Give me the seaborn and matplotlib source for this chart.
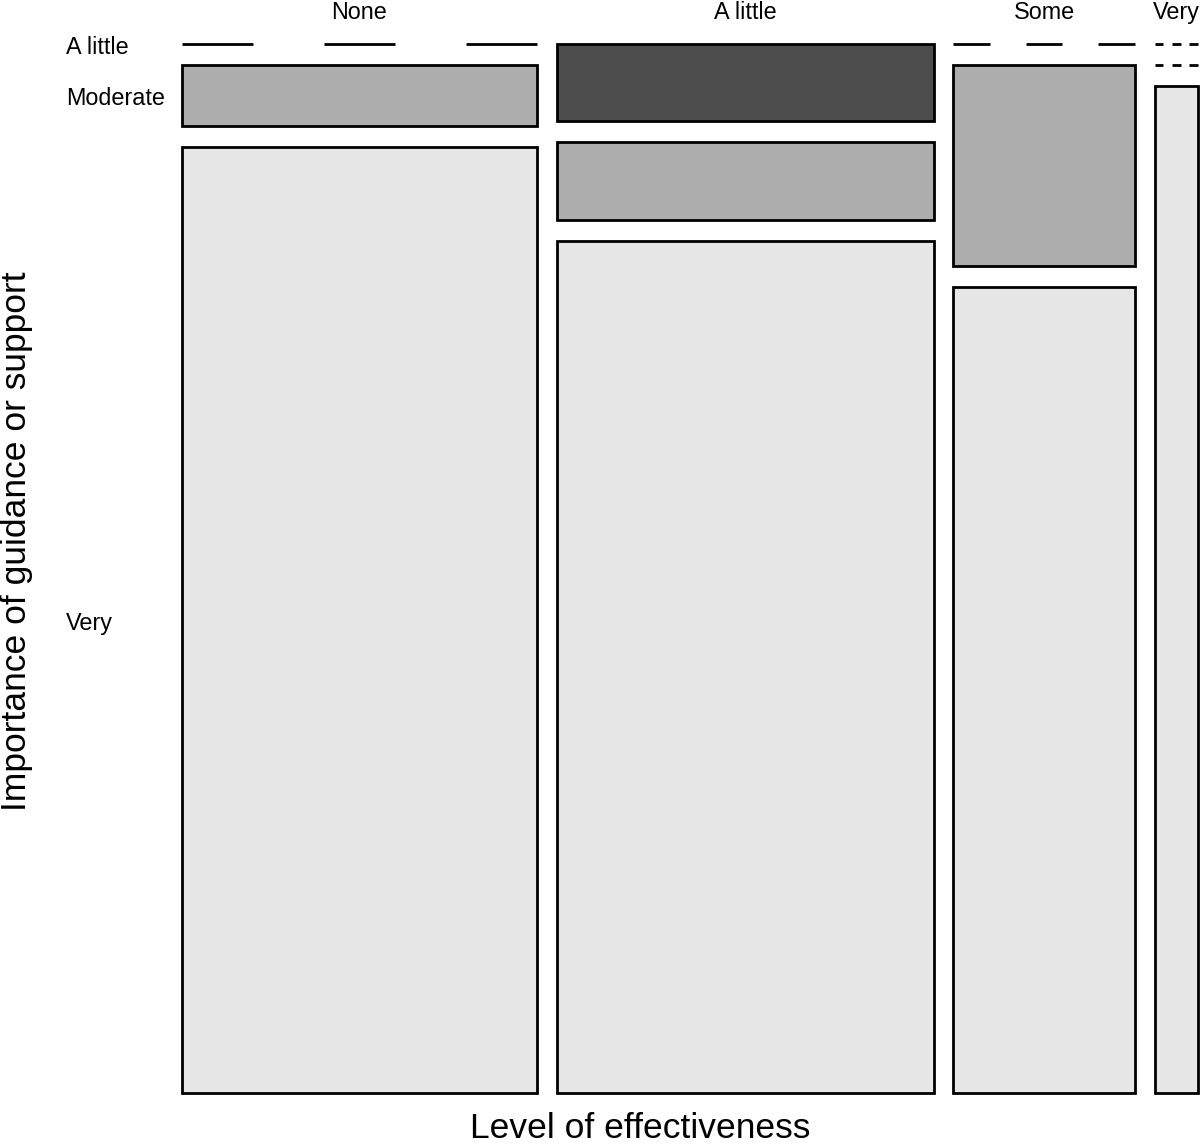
import numpy as np
import matplotlib
matplotlib.use("Agg")
import matplotlib.pyplot as plt
import seaborn as sns

# Counts read from the mosaic (columns = level of effectiveness)
eff_levels = ["None", "A little", "Some", "Very"]
imp_levels = ["A little", "Moderate", "Very"]
n_none = [0, 3, 46]
n_alittle = [4, 4, 44]
n_some = [0, 5, 20]
n_very = [0, 0, 6]
row_colors = ["#4D4D4D", "#AEAEAE", "#E6E6E6"]

sns.set_style("white")
plt.rcParams["font.family"] = ["Liberation Sans", "DejaVu Sans"]
plt.rcParams["text.color"] = "black"

counts = np.array([n_none, n_alittle, n_some, n_very])
col_tot = counts.sum(axis=1)

fig = plt.figure(figsize=(12, 11.46), dpi=100)
ax = fig.add_axes([182 / 1200, 1 - 1093 / 1146, 1016 / 1200, 1049 / 1146])

off_x = 0.059   # share of width used for gaps between columns
off_y = 0.0396  # share of height used for gaps between rows
white_x = off_x / (len(eff_levels) - 1)
white_y = off_y / (len(imp_levels) - 1)

widths = (1 - off_x) * col_tot / col_tot.sum()
lefts = np.concatenate([[0], np.cumsum(widths + white_x)[:-1]])

for j, lab in enumerate(eff_levels):
    x0, w = lefts[j], widths[j]
    heights = (1 - off_y) * counts[j] / col_tot[j]
    tops = np.concatenate([[0], np.cumsum(heights + white_y)[:-1]])
    for i in range(len(imp_levels)):
        if counts[j, i] == 0:
            # zero cell: dashed line, 3 dashes across the column
            for k in (0, 2, 4):
                ax.plot([x0 + k * w / 5, x0 + (k + 1) * w / 5], [tops[i], tops[i]],
                        color="black", lw=2, solid_capstyle="butt", clip_on=False)
        else:
            ax.bar(x0, heights[i], width=w, bottom=tops[i], align="edge",
                   color=row_colors[i], edgecolor="black", linewidth=2, clip_on=False)
        if j == 0:
            ax.text(-116 / 1016, tops[i] + heights[i] / 2 + 3 / 1049, imp_levels[i],
                    ha="left", va="center", fontsize=16.8)
    ax.text(x0 + w / 2, -25 / 1049, lab, ha="center", va="baseline", fontsize=16.8)

ax.set_xlim(0, 1)
ax.set_ylim(1, 0)
ax.axis("off")

fig.text(640 / 1200, 1 / 1146, "Level of effectiveness",
         ha="center", va="bottom", fontsize=25.5)
fig.text(17 / 1200, 1 - 541 / 1146, "Importance of guidance or support",
         ha="center", va="center", rotation=90, fontsize=25.5)

fig.savefig("out.png", dpi=100)
